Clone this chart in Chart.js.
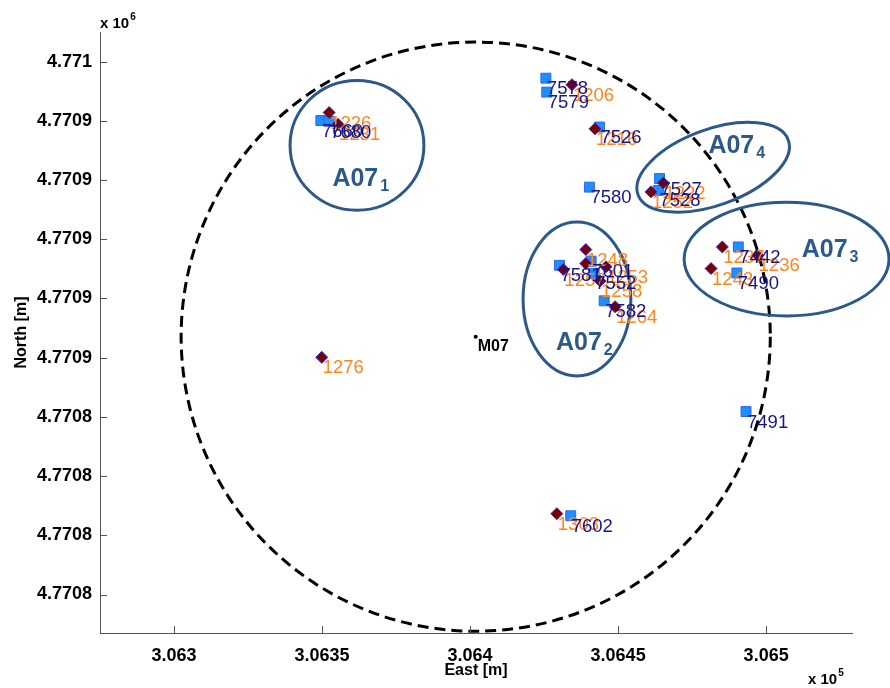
<!DOCTYPE html>
<html>
<head>
<meta charset="utf-8">
<title>A07 array layout</title>
<script src="https://cdn.jsdelivr.net/npm/chart.js@4.4.0/dist/chart.umd.min.js"></script>
<style>
  html, body { margin: 0; padding: 0; background: #fff; }
</style>
</head>
<body>
<canvas id="layoutChart" width="890" height="688"></canvas>
<script>
// --- data (metres, UTM) ---

const xTicks = [306300, 306350, 306400, 306450, 306500];
const xTickLabels = ['3.063', '3.0635', '3.064', '3.0645', '3.065'];
const yTicks = [4770960, 4770940, 4770920, 4770900, 4770880, 4770860, 4770840, 4770820, 4770800, 4770780];
const yTickLabels = ['4.771', '4.7709', '4.7709', '4.7709', '4.7709', '4.7709', '4.7708', '4.7708', '4.7708', '4.7708'];
const xRange = [306275, 306529];
const yRange = [4770767, 4770970];

// dark red diamonds (orange labels)
const diamondLabels = ['1226', '1231', '1206', '1216', '1222', '1252', '1248', '', '1257', '1253', '1258', '1264', '1237', '1236', '1243', '1276', '1303'];
const diamondEast = [306352.4, 306355.4, 306434.4, 306442.2, 306465.3, 306461.1, 306439.1, 306439.1, 306431.5, 306445.9, 306443.9, 306449.0, 306485.2, 306497.1, 306481.4, 306349.9, 306429.3];
const diamondNorth = [4770942.8, 4770938.8, 4770952.2, 4770937.3, 4770919.0, 4770916.0, 4770896.5, 4770891.8, 4770889.8, 4770890.7, 4770885.9, 4770877.2, 4770897.4, 4770894.6, 4770890.1, 4770860.1, 4770807.3];

// blue squares (navy labels)
const squareLabels = ['7660', '7680', '7578', '7579', '7526', '7580', '7527', '7528', '7581', '7601', '7552', '7582', '7442', '7490', '7491', '7602'];
const squareEast = [306349.6, 306352.4, 306425.6, 306425.9, 306443.7, 306440.3, 306464.0, 306463.6, 306430.2, 306440.9, 306441.9, 306445.3, 306490.6, 306490.1, 306493.2, 306434.0];
const squareNorth = [4770940.1, 4770939.8, 4770954.4, 4770949.7, 4770937.9, 4770917.6, 4770920.5, 4770916.5, 4770891.2, 4770892.6, 4770888.5, 4770879.2, 4770897.4, 4770888.6, 4770841.8, 4770806.6];

// central station
const centreLabel = 'M07';
const centreEast = 306401.9;
const centreNorth = 4770867.1;
const circleRadius = 99.5;

// sub-array ellipses: centre, half axes (m), tilt (deg), label spot
const ellipseNames = ['1', '2', '3', '4'];
const ellipseEast = [306361.8, 306436.1, 306506.9, 306482.1];
const ellipseNorth = [4770931.7, 4770879.8, 4770893.3, 4770924.3];
const ellipseRx = [22.6, 18.2, 34.6, 27.0];
const ellipseRy = [21.9, 26.0, 19.2, 12.8];
const ellipseTilt = [0, 0, 0, -20];
const ellipseTextEast = [306353.5, 306429.0, 306512.0, 306480.5];
const ellipseTextNorth = [4770918.0, 4770862.5, 4770894.0, 4770929.0];

const FONT = "'Liberation Sans', Arial, sans-serif";
const ellipseColour = '#2d5988';

function toPoints(xs, ys) {
    return xs.map((x, i) => ({ x: x, y: ys[i] }));
}

// circle + ellipses under the markers
const shapesPlugin = {
    id: 'shapes',
    beforeDatasetsDraw(chart) {
        const ctx = chart.ctx;
        const xs = chart.scales.x;
        const ys = chart.scales.y;
        const pxPerM = (xs.getPixelForValue(xRange[0] + 100) - xs.getPixelForValue(xRange[0])) / 100;
        const pyPerM = (ys.getPixelForValue(yRange[0]) - ys.getPixelForValue(yRange[0] + 100)) / 100;

        ctx.save();
        ctx.strokeStyle = '#000';
        ctx.lineWidth = 3;
        ctx.setLineDash([11, 6]);
        ctx.beginPath();
        ctx.ellipse(xs.getPixelForValue(centreEast), ys.getPixelForValue(centreNorth),
            circleRadius * pxPerM, circleRadius * pyPerM, 0, 0, Math.PI * 2);
        ctx.stroke();

        ctx.setLineDash([]);
        ctx.strokeStyle = ellipseColour;
        ctx.lineWidth = 3;
        ellipseEast.forEach((e, i) => {
            ctx.beginPath();
            ctx.ellipse(xs.getPixelForValue(e), ys.getPixelForValue(ellipseNorth[i]),
                ellipseRx[i] * pxPerM, ellipseRy[i] * pyPerM,
                ellipseTilt[i] * Math.PI / 180, 0, Math.PI * 2);
            ctx.stroke();
        });
        ctx.restore();
    },
    afterDatasetsDraw(chart) {
        const ctx = chart.ctx;
        const xs = chart.scales.x;
        const ys = chart.scales.y;
        ctx.save();
        ctx.textAlign = 'left';
        ctx.textBaseline = 'middle';
        ctx.font = '18.5px ' + FONT;

        // station numbers
        const diamonds = chart.getDatasetMeta(0).data;
        const squares = chart.getDatasetMeta(1).data;
        ctx.fillStyle = '#ff8419';
        diamonds.forEach((pt, i) => ctx.fillText(diamondLabels[i], pt.x + 1, pt.y + 11));
        ctx.fillStyle = '#15158a';
        squares.forEach((pt, i) => ctx.fillText(squareLabels[i], pt.x + 1, pt.y + 11));

        const c = chart.getDatasetMeta(2).data[0];
        ctx.fillStyle = '#000';
        ctx.font = 'bold 16px ' + FONT;
        ctx.fillText(centreLabel, c.x + 2, c.y + 10);

        // A07 sub-array names
        ctx.fillStyle = ellipseColour;
        ctx.textBaseline = 'alphabetic';
        ellipseTextEast.forEach((e, i) => {
            const px = xs.getPixelForValue(e);
            const py = ys.getPixelForValue(ellipseTextNorth[i]);
            ctx.font = 'bold 25px ' + FONT;
            ctx.fillText('A07', px, py);
            const w = ctx.measureText('A07').width;
            ctx.font = 'bold 16px ' + FONT;
            ctx.fillText(ellipseNames[i], px + w + 2, py + 5);
        });
        ctx.restore();
    },
    afterDraw(chart) {
        const ctx = chart.ctx;
        const xs = chart.scales.x;
        const ys = chart.scales.y;
        const area = chart.chartArea;
        ctx.save();
        // inward tick marks, matlab style
        ctx.strokeStyle = '#555';
        ctx.lineWidth = 1;
        ctx.beginPath();
        xTicks.forEach(v => {
            const px = Math.round(xs.getPixelForValue(v)) + 0.5;
            ctx.moveTo(px, area.bottom);
            ctx.lineTo(px, area.bottom - 7);
        });
        yTicks.forEach(v => {
            const py = Math.round(ys.getPixelForValue(v)) + 0.5;
            ctx.moveTo(area.left, py);
            ctx.lineTo(area.left + 7, py);
        });
        ctx.stroke();

        // exponent notes
        ctx.fillStyle = '#000';
        ctx.textAlign = 'left';
        ctx.textBaseline = 'alphabetic';
        ctx.font = 'bold 15px ' + FONT;
        ctx.fillText('x 10', area.left, 28);
        let w = ctx.measureText('x 10').width;
        ctx.font = 'bold 10px ' + FONT;
        ctx.fillText('6', area.left + w + 1, 20);

        ctx.font = 'bold 15px ' + FONT;
        ctx.fillText('x 10', 808, 684);
        w = ctx.measureText('x 10').width;
        ctx.font = 'bold 10px ' + FONT;
        ctx.fillText('5', 808 + w + 1, 676);
        ctx.restore();
    }
};

document.addEventListener('DOMContentLoaded', () => {
    const ctx = document.getElementById('layoutChart').getContext('2d');

    new Chart(ctx, {
        type: 'scatter',
        data: {
            datasets: [{
                label: 'diamonds',
                data: toPoints(diamondEast, diamondNorth),
                pointStyle: 'rectRot',
                pointRadius: 6,
                backgroundColor: '#7a0000',
                borderColor: '#3030d0',
                borderWidth: 1
            }, {
                label: 'squares',
                data: toPoints(squareEast, squareNorth),
                pointStyle: 'rect',
                pointRadius: 7,
                backgroundColor: '#1e8fff',
                borderColor: '#2f62f0',
                borderWidth: 1
            }, {
                label: 'M07',
                data: [{ x: centreEast, y: centreNorth }],
                pointStyle: 'circle',
                pointRadius: 2,
                backgroundColor: '#000',
                borderColor: '#000',
                borderWidth: 0
            }]
        },
        options: {
            responsive: false,
            animation: false,
            layout: { padding: { top: 32, right: 38, left: 0, bottom: 0 } },
            plugins: {
                legend: { display: false },
                tooltip: { enabled: false }
            },
            scales: {
                x: {
                    type: 'linear',
                    min: xRange[0],
                    max: xRange[1],
                    afterBuildTicks: scale => { scale.ticks = xTicks.map(v => ({ value: v })); },
                    afterFit: scale => { scale.height = 55; },
                    grid: { display: false, drawTicks: false },
                    border: { display: true, color: '#555', width: 1 },
                    ticks: {
                        padding: 12,
                        maxRotation: 0,
                        autoSkip: false,
                        color: '#000',
                        font: { family: FONT, size: 18, weight: 'bold' },
                        callback: (v, i) => xTickLabels[i]
                    },
                    title: {
                        display: true,
                        text: 'East [m]',
                        color: '#000',
                        padding: { top: 0, bottom: 8 },
                        font: { family: FONT, size: 16, weight: 'bold' }
                    }
                },
                y: {
                    type: 'linear',
                    min: yRange[0],
                    max: yRange[1],
                    afterBuildTicks: scale => { scale.ticks = yTicks.map(v => ({ value: v })); },
                    afterFit: scale => { scale.width = 100; },
                    grid: { display: false, drawTicks: false },
                    border: { display: true, color: '#555', width: 1 },
                    ticks: {
                        padding: 8,
                        autoSkip: false,
                        color: '#000',
                        font: { family: FONT, size: 18, weight: 'bold' },
                        callback: (v, i) => yTickLabels[i]
                    },
                    title: {
                        display: true,
                        text: 'North [m]',
                        color: '#000',
                        padding: { top: 12, bottom: 0 },
                        font: { family: FONT, size: 16, weight: 'bold' }
                    }
                }
            }
        },
        plugins: [shapesPlugin]
    });
});
</script>
</body>
</html>
